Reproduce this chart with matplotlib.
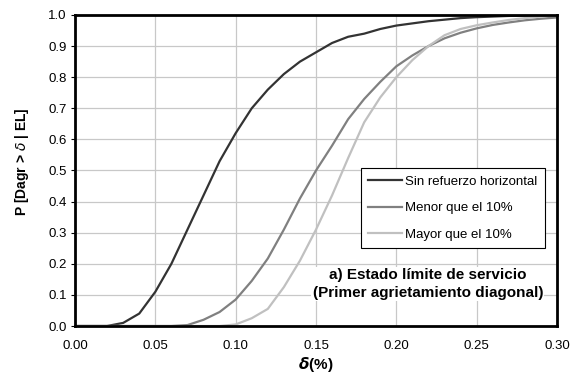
import matplotlib
matplotlib.use("Agg")
import matplotlib.pyplot as plt
import numpy as np

plt.rcParams['font.family'] = ['Liberation Sans', 'DejaVu Sans']

# Drift ratio (%) and exceedance probabilities for each wall group
delta = [0.00, 0.01, 0.02, 0.03, 0.04, 0.05, 0.06, 0.07, 0.08, 0.09, 0.10,
         0.11, 0.12, 0.13, 0.14, 0.15, 0.16, 0.17, 0.18, 0.19, 0.20,
         0.21, 0.22, 0.23, 0.24, 0.25, 0.26, 0.27, 0.28, 0.29, 0.30]

sin_refuerzo = [0.0, 0.0, 0.0, 0.01, 0.04, 0.11, 0.20, 0.31, 0.42, 0.53, 0.62,
                0.70, 0.76, 0.81, 0.85, 0.88, 0.91, 0.93, 0.94, 0.955, 0.966,
                0.973, 0.98, 0.985, 0.99, 0.993, 0.995, 0.997, 0.998, 0.999, 1.0]

menor_10 = [0.0, 0.0, 0.0, 0.0, 0.0, 0.0, 0.0, 0.003, 0.02, 0.045, 0.085,
            0.145, 0.217, 0.31, 0.41, 0.50, 0.58, 0.665, 0.73, 0.785, 0.835,
            0.87, 0.90, 0.925, 0.943, 0.957, 0.968, 0.976, 0.983, 0.988, 0.992]

mayor_10 = [0.0, 0.0, 0.0, 0.0, 0.0, 0.0, 0.0, 0.0, 0.0, 0.0, 0.005,
            0.025, 0.055, 0.125, 0.21, 0.31, 0.42, 0.54, 0.655, 0.735, 0.80,
            0.855, 0.90, 0.935, 0.955, 0.967, 0.976, 0.984, 0.99, 0.995, 1.0]

series = [
    ("Sin refuerzo horizontal", sin_refuerzo, "#333333"),
    ("Menor que el 10%", menor_10, "#808080"),
    ("Mayor que el 10%", mayor_10, "#c0c0c0"),
]

x_ticks = [0.00, 0.05, 0.10, 0.15, 0.20, 0.25, 0.30]
y_ticks = [0.0, 0.1, 0.2, 0.3, 0.4, 0.5, 0.6, 0.7, 0.8, 0.9, 1.0]

fig = plt.figure(figsize=(5.72, 3.73), dpi=100)
ax = fig.add_axes([0.1311, 0.126, 0.8427, 0.8338])

for label, vals, color in series:
    ax.plot(delta, vals, color=color, lw=1.6, label=label)

ax.set_xlim(0, 0.30)
ax.set_ylim(0, 1.0)
ax.set_xticks(x_ticks)
ax.set_yticks(y_ticks)
ax.set_xticklabels([f"{v:.2f}" for v in x_ticks], fontsize=9.5)
ax.set_yticklabels([f"{v:.1f}" for v in y_ticks], fontsize=9.5)
ax.tick_params(axis='y', direction='out', length=3, width=0.8, color='#000000', pad=3)
ax.tick_params(axis='x', direction='out', length=0, pad=10)
ax.grid(True, color='#c8c8c8', lw=0.9)
ax.set_axisbelow(True)
for sp in ax.spines.values():
    sp.set_linewidth(2)
    sp.set_color('black')

ax.set_ylabel("P [Dagr > $\\delta$ | EL]", fontsize=10, fontweight='bold')
ax.yaxis.set_label_coords(-0.091, 0.527)
ax.set_xlabel("$\\boldsymbol{\\delta}$(%)", fontsize=11, fontweight='bold', labelpad=2)

leg = ax.legend(loc='upper left', bbox_to_anchor=(0.593, 0.508), fontsize=9.5,
                frameon=True, fancybox=False, edgecolor='black', framealpha=1,
                handlelength=2.6, handletextpad=0.2, borderpad=0.55,
                labelspacing=1.1, borderaxespad=0)
leg.get_frame().set_linewidth(0.8)

ax.text(0.732, 0.135, "a) Estado límite de servicio\n(Primer agrietamiento diagonal)",
        transform=ax.transAxes, ha='center', va='center', fontsize=11,
        fontweight='bold', linespacing=1.35,
        bbox=dict(facecolor='white', edgecolor='none', pad=1))

fig.savefig("out.png", dpi=100)
